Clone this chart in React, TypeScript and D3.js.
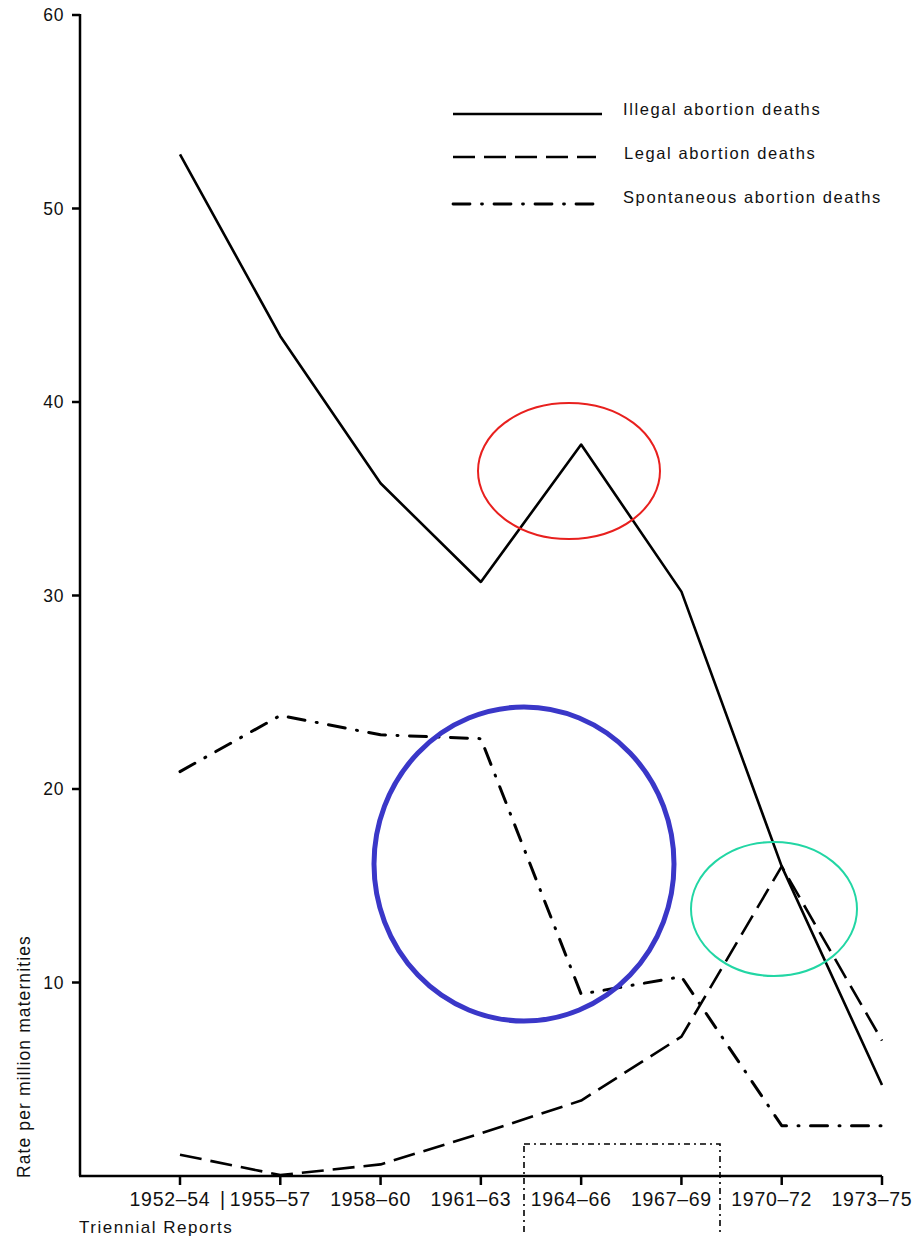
import React from "react";
import * as d3 from "d3";

const categories = ["1952–54", "1955–57", "1958–60", "1961–63", "1964–66", "1967–69", "1970–72", "1973–75"];
const tickLabels = ["1952–54", "1955–57", "1958–60", "1961–63", "1964–66", "1967–69", "1970–72", "1973–75"];
const illegal = [52.8, 43.4, 35.8, 30.7, 37.8, 30.2, 16.0, 4.7];
const legal = [1.1, 0.05, 0.6, 2.2, 3.9, 7.2, 16.0, 7.0];
const spontaneous = [20.9, 23.8, 22.8, 22.6, 9.4, 10.3, 2.6, 2.6];
const yTicks = [10, 20, 30, 40, 50, 60];
const legendLabels = ["Illegal abortion deaths", "Legal abortion deaths", "Spontaneous abortion deaths"];

const W = 915;
const H = 1236;
const FONT = "'Liberation Sans', Arial, Helvetica, sans-serif";

export default function App() {
  const x = d3.scalePoint<string>().domain(categories).range([180, 882]);
  const y = d3.scaleLinear().domain([0, 60]).range([1176, 15]);
  const axisX = 80;

  const line = d3
    .line<number>()
    .x((_, i) => x(categories[i]) as number)
    .y((d) => y(d));

  const series = [
    { data: illegal, dash: undefined as string | undefined, cap: "butt", w: 2.6 },
    { data: legal, dash: "22 9", cap: "butt", w: 2.6 },
    { data: spontaneous, dash: "17 11.5 1 11.5", cap: "round", w: 3 },
  ];

  const legendY = [114, 157, 204];
  const legendX2 = [602, 596, 600];
  const legendTextX = [623, 624, 623];
  const legendTextY = [115, 159, 203];

  return (
    <svg width={W} height={H} style={{ position: "absolute", left: 0, top: 0, background: "#fff" }}>
      <rect x={0} y={0} width={W} height={H} fill="#fff" />
      {/* y axis */}
      <line x1={axisX} x2={axisX} y1={y(60) - 1} y2={y(0)} stroke="#000" strokeWidth={2.5} />
      {yTicks.map((t) => (
        <g key={t}>
          <line x1={axisX - 8} x2={axisX} y1={y(t)} y2={y(t)} stroke="#000" strokeWidth={2.5} />
          <text x={64} y={y(t)} dy="0.36em" textAnchor="end" fontFamily={FONT} fontSize={17.5} letterSpacing={0.6} fill="#111">
            {t}
          </text>
        </g>
      ))}
      {/* x axis */}
      <line x1={axisX - 1} x2={x(categories[categories.length - 1]) as number} y1={y(0)} y2={y(0)} stroke="#000" strokeWidth={2.5} />
      {categories.map((c, i) => (
        <g key={c}>
          <line x1={x(c) as number} x2={x(c) as number} y1={y(0)} y2={y(0) + 9} stroke="#000" strokeWidth={2.5} />
          <text x={(x(c) as number) - 10} y={1206} textAnchor="middle" fontFamily={FONT} fontSize={19.5} letterSpacing={0.7} fill="#111">
            {tickLabels[i]}
          </text>
        </g>
      ))}
      <text x={220} y={1206} fontFamily={FONT} fontSize={19.5} fill="#111">|</text>
      {/* axis titles */}
      <text
        transform={`translate(30, 1178) rotate(-90)`}
        fontFamily={FONT}
        fontSize={17.5}
        letterSpacing={1.1}
        fill="#111"
      >
        Rate per million maternities
      </text>
      <text x={79} y={1233} fontFamily={FONT} fontSize={17} letterSpacing={1.5} fill="#111">
        Triennial Reports
      </text>
      {/* series */}
      {series.map((s, i) => (
        <path
          key={i}
          d={line(s.data) || ""}
          fill="none"
          stroke="#000"
          strokeWidth={s.w}
          strokeDasharray={s.dash}
          strokeLinecap={s.cap as any}
          strokeLinejoin="round"
        />
      ))}
      {/* legend */}
      {series.map((s, i) => (
        <g key={"lg" + i}>
          <line x1={453} x2={legendX2[i]} y1={legendY[i]} y2={legendY[i]} stroke="#000" strokeWidth={s.w - 0.2} strokeDasharray={s.dash} strokeLinecap={s.cap as any} />
          <text x={legendTextX[i]} y={legendTextY[i]} fontFamily={FONT} fontSize={16.5} letterSpacing={1.6} fill="#111">
            {legendLabels[i]}
          </text>
        </g>
      ))}
      {/* annotations */}
      <ellipse cx={569} cy={471} rx={91} ry={68} fill="none" stroke="#e8201e" strokeWidth={2} />
      <ellipse cx={524} cy={864} rx={150} ry={157} fill="none" stroke="#3a37c8" strokeWidth={5} />
      <ellipse cx={774} cy={909} rx={83} ry={67} fill="none" stroke="#22d6a4" strokeWidth={2} />
      <rect x={524} y={1144} width={196} height={120} fill="none" stroke="#000" strokeWidth={1.6} strokeDasharray="6 4 2 4" />
    </svg>
  );
}
